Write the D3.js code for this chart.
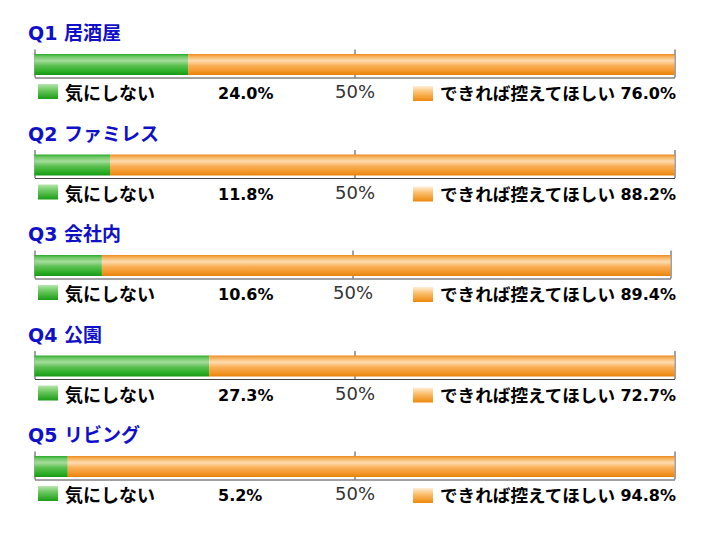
<!DOCTYPE html>
<html>
<head>
<meta charset="utf-8">
<script src="https://cdn.jsdelivr.net/npm/d3@7"></script>
<style>
  body { margin: 0; background: #fff; }
  text { font-family: "DejaVu Sans", "Noto Sans CJK JP", sans-serif; }
</style>
</head>
<body>
<div id="chart"></div>
<script>
// questions and answers (percent)
const questions = ["Q1 居酒屋", "Q2 ファミレス", "Q3 会社内", "Q4 公園", "Q5 リビング"];
const dontMind = [24.0, 11.8, 10.6, 27.3, 5.2];
const ratherNot = [76.0, 88.2, 89.4, 72.7, 94.8];
const seriesLabels = ["気にしない", "できれば控えてほしい"];
const axisTicks = [0, 50, 100];
// Q3 image in the original is a few pixels narrower
const axisRight = [674, 674, 670, 674, 674];

const width = 705, height = 533;
const svg = d3.select("#chart").append("svg")
    .attr("width", width)
    .attr("height", height);

// gradients for bars and legend boxes
const defs = svg.append("defs");
function grad(id, stops) {
    const g = defs.append("linearGradient").attr("id", id)
        .attr("x1", 0).attr("y1", 0).attr("x2", 0).attr("y2", 1);
    stops.forEach(s => g.append("stop").attr("offset", s[0]).attr("stop-color", s[1]));
}
grad("gBar", [[0, "#2aa82a"], [0.12, "#6cc864"], [0.32, "#a6dc9c"], [0.55, "#5cc052"], [0.85, "#28ac22"], [1, "#1a9618"]]);
grad("oBar", [[0, "#ee8a20"], [0.12, "#f6b25c"], [0.32, "#ffdcb0"], [0.55, "#f9b058"], [0.85, "#f29424"], [1, "#e6820a"]]);
grad("gBox", [[0, "#b6e6ac"], [0.4, "#6cc860"], [1, "#1a9c16"]]);
grad("oBox", [[0, "#ffeed8"], [0.4, "#fbc070"], [1, "#ee880c"]]);

const rowY = d3.scaleLinear().domain([0, questions.length - 1]).range([0, 402]);

questions.forEach((q, i) => {
    const g = svg.append("g").attr("transform", `translate(0,${rowY(i)})`);
    const x = d3.scaleLinear().domain([0, 100]).range([34.5, axisRight[i] + 0.5]);

    // title
    g.append("text")
        .attr("x", 28).attr("y", 40)
        .attr("fill", "#1010c8")
        .attr("font-size", 19).attr("font-weight", "bold")
        .text(q);

    // axis: ticks point upwards
    const axis = d3.axisBottom(x)
        .tickValues(axisTicks)
        .tickSizeInner(-28)
        .tickSizeOuter(0)
        .tickPadding(8)
        .tickFormat(d => d === 50 ? d + "%" : "");
    const ax = g.append("g")
        .attr("transform", "translate(0,77.5)")
        .call(axis);
    ax.select(".domain").attr("stroke", "#444");
    ax.selectAll(".tick line").attr("stroke", "#444");
    ax.selectAll(".tick text")
        .attr("font-size", 18)
        .attr("fill", "#333")
        .style("font-family", "'DejaVu Sans', sans-serif");

    // stacked bar
    const parts = [
        { x0: 0, x1: dontMind[i], fill: "url(#gBar)" },
        { x0: dontMind[i], x1: dontMind[i] + ratherNot[i], fill: "url(#oBar)" }
    ];
    g.selectAll("rect.bar").data(parts).join("rect")
        .attr("class", "bar")
        .attr("x", d => x(d.x0))
        .attr("width", d => x(d.x1) - x(d.x0))
        .attr("y", 54)
        .attr("height", 21)
        .attr("fill", d => d.fill);

    // legend row
    g.append("rect").attr("x", 38).attr("y", 84).attr("width", 20).attr("height", 15).attr("fill", "url(#gBox)");
    g.append("text").attr("x", 65).attr("y", 100)
        .attr("font-size", 18).attr("font-weight", "bold").text(seriesLabels[0]);
    g.append("text").attr("x", 218).attr("y", 99)
        .attr("font-size", 16).attr("font-weight", "bold").text(dontMind[i].toFixed(1) + "%");

    g.append("rect").attr("x", 413).attr("y", 86).attr("width", 20).attr("height", 15).attr("fill", "url(#oBox)");
    g.append("text").attr("x", 440).attr("y", 100)
        .attr("font-size", 17.6).attr("font-weight", "bold").text(seriesLabels[1]);
    g.append("text").attr("x", 676).attr("y", 99)
        .attr("text-anchor", "end")
        .attr("font-size", 16).attr("font-weight", "bold").text(ratherNot[i].toFixed(1) + "%");
});
</script>
</body>
</html>
